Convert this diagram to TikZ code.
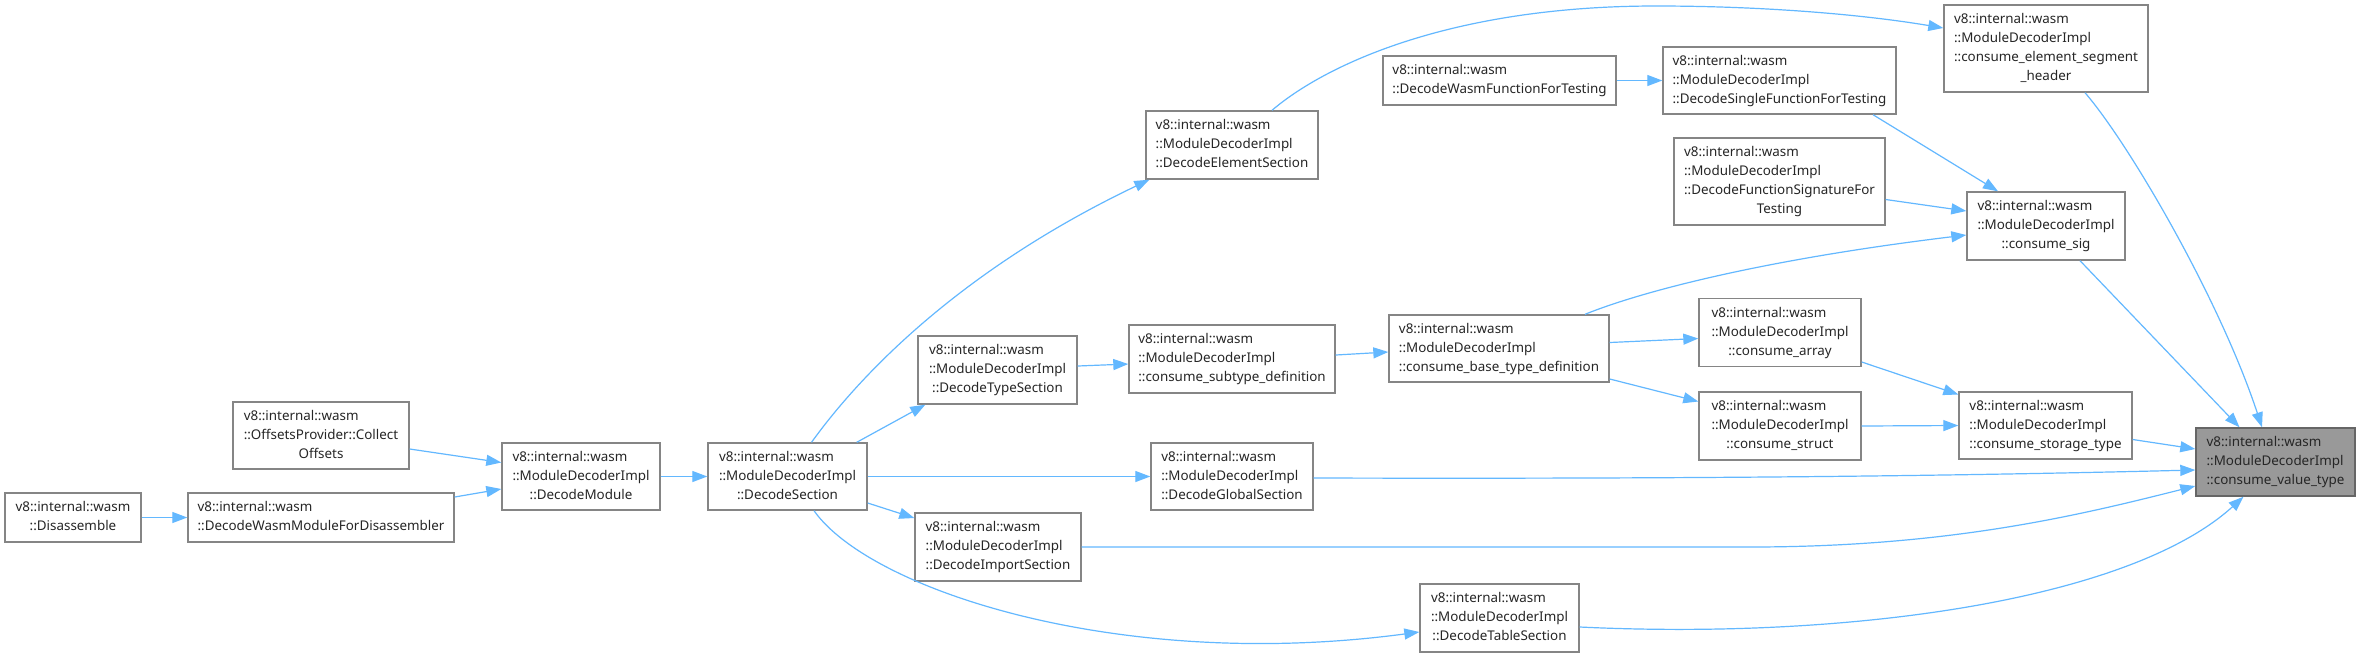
\documentclass[tikz,border=0pt]{standalone}
\usepackage{fontspec}
\setmainfont{Noto Sans}
\usetikzlibrary{arrows.meta,calc}
\definecolor{edgec}{HTML}{63B8FF}
\definecolor{bordc}{HTML}{858585}
\definecolor{hlfill}{HTML}{999999}
\newcommand\nlines[1]{\begin{tabular}{@{}l@{}}#1\end{tabular}}
\newcommand\lastl[1]{\multicolumn{1}{@{}c@{}}{#1}}
\begin{document}
\begin{tikzpicture}[x=1pt,y=-1pt,
  box/.style={draw=bordc, line width=1.4pt, fill=white, inner sep=0pt,
    font=\fontsize{13.4}{19}\selectfont, text=black!85},
  hlbox/.style={box, fill=hlfill, draw=black!60},
  e/.style={draw=edgec, line width=1.2pt, -{Triangle[length=15pt,width=11pt]}}]
\useasboundingbox (0,0) rectangle (2360,657);
\fill[white] (0,0) rectangle (2360,657);

% nodes
\node[box, minimum width=136pt, minimum height=49pt] (dis) at (73,517.5)
  {\nlines{v8::internal::wasm\\ \lastl{::Disassemble}}};
\node[box, minimum width=266pt, minimum height=49pt] (dwmd) at (321,517.5)
  {\nlines{v8::internal::wasm\\ \lastl{::DecodeWasmModuleForDisassembler}}};
\node[box, minimum width=176pt, minimum height=67pt] (coll) at (321,435.5)
  {\nlines{v8::internal::wasm\\ ::OffsetsProvider::Collect\\ \lastl{Offsets}}};
\node[box, minimum width=158pt, minimum height=67pt] (dmod) at (581,476.5)
  {\nlines{v8::internal::wasm\\ ::ModuleDecoderImpl\\ \lastl{::DecodeModule}}};
\node[box, minimum width=159pt, minimum height=67pt] (dsec) at (787.5,476.5)
  {\nlines{v8::internal::wasm\\ ::ModuleDecoderImpl\\ \lastl{::DecodeSection}}};
\node[box, minimum width=159pt, minimum height=68pt] (dtype) at (997.5,370)
  {\nlines{v8::internal::wasm\\ ::ModuleDecoderImpl\\ \lastl{::DecodeTypeSection}}};
\node[box, minimum width=166pt, minimum height=68pt] (dimp) at (998,547)
  {\nlines{v8::internal::wasm\\ ::ModuleDecoderImpl\\ \lastl{::DecodeImportSection}}};
\node[box, minimum width=206pt, minimum height=68pt] (dsub) at (1232,359)
  {\nlines{v8::internal::wasm\\ ::ModuleDecoderImpl\\ \lastl{::consume\_subtype\_definition}}};
\node[box, minimum width=162pt, minimum height=67pt] (dglob) at (1232,476.5)
  {\nlines{v8::internal::wasm\\ ::ModuleDecoderImpl\\ \lastl{::DecodeGlobalSection}}};
\node[box, minimum width=172pt, minimum height=68pt] (delem) at (1232,145)
  {\nlines{v8::internal::wasm\\ ::ModuleDecoderImpl\\ \lastl{::DecodeElementSection}}};
\node[box, minimum width=159pt, minimum height=68pt] (dtab) at (1499.5,618)
  {\nlines{v8::internal::wasm\\ ::ModuleDecoderImpl\\ \lastl{::DecodeTableSection}}};
\node[box, minimum width=233pt, minimum height=49pt] (dwft) at (1499.5,80.5)
  {\nlines{v8::internal::wasm\\ \lastl{::DecodeWasmFunctionForTesting}}};
\node[box, minimum width=220pt, minimum height=67pt] (base) at (1499,348.5)
  {\nlines{v8::internal::wasm\\ ::ModuleDecoderImpl\\ \lastl{::consume\_base\_type\_definition}}};
\node[box, minimum width=233pt, minimum height=67pt] (dsft) at (1779.5,80.5)
  {\nlines{v8::internal::wasm\\ ::ModuleDecoderImpl\\ \lastl{::DecodeSingleFunctionForTesting}}};
\node[box, minimum width=211pt, minimum height=87pt] (dfst) at (1779.5,181.5)
  {\nlines{v8::internal::wasm\\ ::ModuleDecoderImpl\\ ::DecodeFunctionSignatureFor\\ \lastl{Testing}}};
\node[box, minimum width=162pt, minimum height=68pt] (arr) at (1780,332.5)
  {\nlines{v8::internal::wasm\\ ::ModuleDecoderImpl\\ \lastl{::consume\_array}}};
\node[box, minimum width=162pt, minimum height=68pt] (str) at (1780,426)
  {\nlines{v8::internal::wasm\\ ::ModuleDecoderImpl\\ \lastl{::consume\_struct}}};
\node[box, minimum width=204pt, minimum height=87pt] (elseg) at (2046,48.5)
  {\nlines{v8::internal::wasm\\ ::ModuleDecoderImpl\\ ::consume\_element\_segment\\ \lastl{\_header}}};
\node[box, minimum width=158pt, minimum height=68pt] (sig) at (2046,226)
  {\nlines{v8::internal::wasm\\ ::ModuleDecoderImpl\\ \lastl{::consume\_sig}}};
\node[box, minimum width=173pt, minimum height=67pt] (stor) at (2045.5,425.5)
  {\nlines{v8::internal::wasm\\ ::ModuleDecoderImpl\\ \lastl{::consume\_storage\_type}}};
\node[hlbox, minimum width=159pt, minimum height=68pt] (val) at (2275.5,462)
  {\nlines{v8::internal::wasm\\ ::ModuleDecoderImpl\\ \lastl{::consume\_value\_type}}};

% edges
\draw[e] (dis.east) -- (dwmd.west);
\draw[e] ($(dwmd.east)+(0,-20.5)$) -- ($(dmod.west)+(0,12.5)$);
\draw[e] ($(coll.east)+(0,13.5)$) -- ($(dmod.west)+(0,-14)$);
\draw[e] (dmod.east) -- (dsec.west);
\draw[e] ($(dsec.north)+(24,0)$) .. controls (860,375) and (960,270) .. ($(delem.south west)+(4,0)$);
\draw[e] ($(dsec.north east)+(-11,0)$) -- ($(dtype.south west)+(8,0)$);
\draw[e] (dsec.east) -- (dglob.west);
\draw[e] ($(dsec.east)+(0,26.5)$) -- ($(dimp.west)+(0,-29)$);
\draw[e] ($(dsec.south)+(26.5,0)$) .. controls (870,590) and (1120,672) .. ($(dtab.west)+(0,14)$);
\draw[e] ($(dtype.east)+(0,-4)$) -- ($(dsub.west)+(0,5)$);
\draw[e] ($(dsub.east)+(0,-4)$) -- ($(base.west)+(0,3.5)$);
\draw[e] ($(delem.north)+(40,0)$) .. controls (1325,65) and (1450,6) .. (1656,6)
  .. controls (1760,6) and (1860,14) .. ($(elseg.west)+(0,-20.5)$);
\draw[e] (dwft.east) -- (dsft.west);
\draw[e] ($(dsft.south)+(93.5,0)$) -- ($(sig.north)+(-48,0)$);
\draw[e] ($(dfst.east)+(0,18)$) -- ($(sig.west)+(0,-15)$);
\draw[e] ($(base.north)+(86,0)$) .. controls (1640,292) and (1760,260) .. ($(sig.west)+(0,9)$);
\draw[e] ($(base.east)+(0,-6)$) -- ($(arr.west)+(0,6)$);
\draw[e] ($(base.east)+(0,30.5)$) -- ($(str.west)+(0,-24.5)$);
\draw[e] ($(arr.east)+(0,29.5)$) -- ($(stor.west)+(0,-31)$);
\draw[e] (str.east) -- (stor.west);
\draw[e] ($(stor.east)+(0,14)$) -- ($(val.west)+(0,-13)$);
\draw[e] ($(elseg.south)+(39,0)$) .. controls (2130,145) and (2220,300) .. ($(val.north)+(-13.5,0)$);
\draw[e] ($(sig.south)+(34,0)$) -- ($(val.north)+(-36,0)$);
\draw[e] ($(dglob.east)+(0,1.5)$) .. controls (1700,479) and (1950,476) .. ($(val.west)+(0,8)$);
\draw[e] (dimp.east) -- (1750,547) .. controls (1950,547) and (2080,515) .. ($(val.west)+(0,24)$);
\draw[e] ($(dtab.east)+(0,9)$) .. controls (1850,640) and (2130,600) .. ($(val.south)+(-32,0)$);
\end{tikzpicture}
\end{document}
